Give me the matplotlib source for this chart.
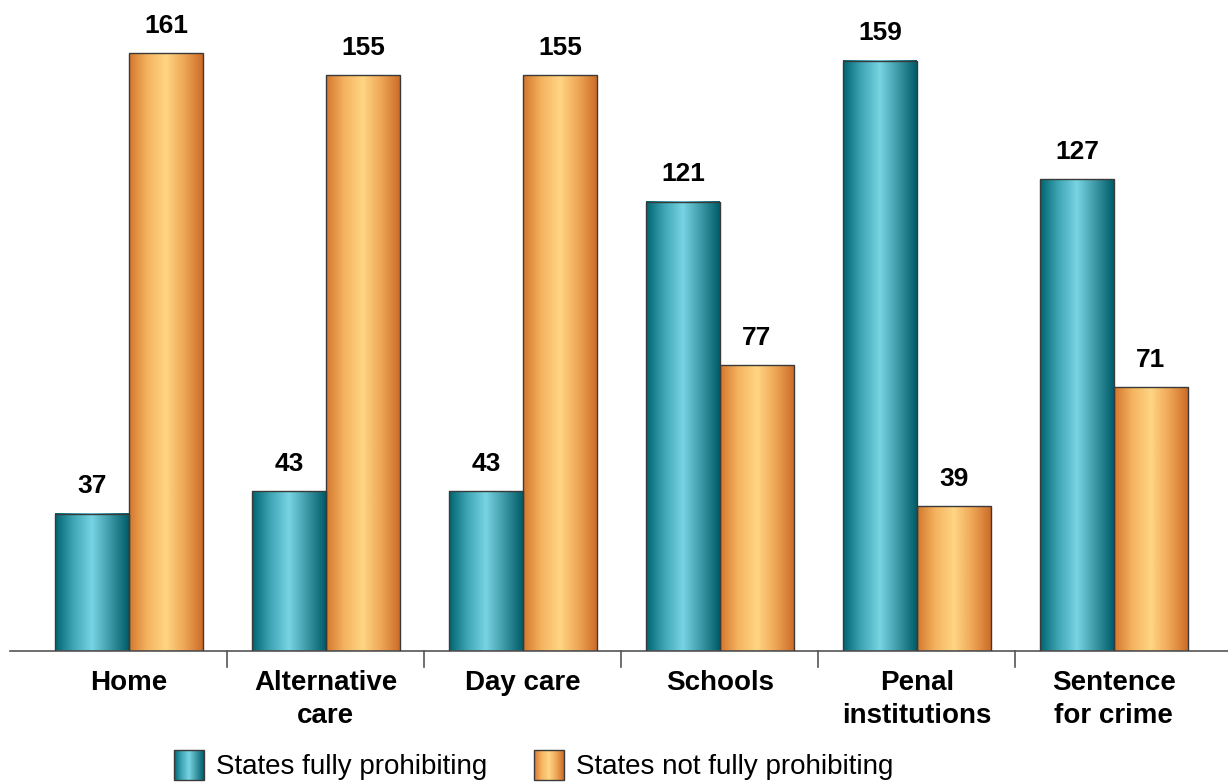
import numpy as np
import matplotlib.pyplot as plt
from matplotlib.colors import LinearSegmentedColormap
from matplotlib.legend_handler import HandlerBase
from matplotlib.patches import Rectangle

categories = ['Home', 'Alternative\ncare', 'Day care', 'Schools', 'Penal\ninstitutions', 'Sentence\nfor crime']
fully = [37, 43, 43, 121, 159, 127]
not_fully = [161, 155, 155, 77, 39, 71]
series_names = ['States fully prohibiting', 'States not fully prohibiting']

teal_cmap = LinearSegmentedColormap.from_list('teal', ['#006470', '#3fa6b6', '#78d4e2', '#3d98a6', '#005c68'])
orange_cmap = LinearSegmentedColormap.from_list('orange', ['#d4762c', '#f4b460', '#ffd584', '#eea656', '#cc6c28'])


class GradientHandler(HandlerBase):
    # legend key drawn as thin vertical stripes so it shows the same gradient as the bars
    def __init__(self, cmap):
        super().__init__()
        self.cmap = cmap

    def create_artists(self, legend, orig_handle, xdescent, ydescent, width, height, fontsize, trans):
        n = 30
        arts = []
        for i in range(n):
            arts.append(Rectangle((-xdescent + width * i / n, -ydescent), width / n + 0.3, height,
                                  facecolor=self.cmap((i + 0.5) / n), edgecolor='none', transform=trans))
        arts.append(Rectangle((-xdescent, -ydescent), width, height, fill=False,
                              edgecolor='#3a3a3a', lw=1.0, transform=trans))
        return arts


plt.rcParams['font.family'] = ['Liberation Sans', 'DejaVu Sans']

fig = plt.figure(figsize=(12.28, 7.83), dpi=100)
ax = fig.add_axes([10 / 1228, 132 / 783, 1218 / 1228, 651 / 783])

x = np.arange(len(categories))
w = 0.375
grad = np.linspace(0, 1, 256).reshape(1, -1)

for vals, off, cmap in [(fully, -w / 2, teal_cmap), (not_fully, w / 2, orange_cmap)]:
    for xi, v in zip(x, vals):
        left = xi + off - w / 2
        ax.imshow(grad, cmap=cmap, aspect='auto', extent=[left, left + w, 0, v], zorder=2)
        ax.add_patch(Rectangle((left, 0), w, v, fill=False, edgecolor='#3a3a3a', lw=1.0, zorder=3))
        ax.annotate(str(v), (xi + off, v), xytext=(0, 11), textcoords='offset points',
                    ha='center', va='bottom', fontsize=19, fontweight='bold')

ax.set_xlim(-0.604, 5.58)
ax.set_ylim(0, 175.3)
for s in ['top', 'left', 'right']:
    ax.spines[s].set_visible(False)
ax.spines['bottom'].set_color('#555555')
ax.spines['bottom'].set_linewidth(1.2)
ax.set_yticks([])
ax.set_xticks(x)
ax.set_xticklabels(categories, fontsize=20, fontweight='bold', linespacing=1.33)
ax.tick_params(axis='x', length=0, pad=14)
# group separator ticks
for b in x[:-1] + 0.5:
    ax.plot([b, b], [0, -4.3], color='#555555', lw=1.2, clip_on=False)

h1 = Rectangle((0, 0), 1, 1)
h2 = Rectangle((0, 0), 1, 1)
fig.legend([h1, h2], series_names, loc='center left', bbox_to_anchor=(160 / 1228, 18 / 783), ncol=2,
           frameon=False, fontsize=20, borderpad=0, handlelength=1.08, handleheight=1.3,
           handletextpad=0.43, columnspacing=1.7,
           handler_map={h1: GradientHandler(teal_cmap), h2: GradientHandler(orange_cmap)})

fig.savefig('out.png', dpi=100)
